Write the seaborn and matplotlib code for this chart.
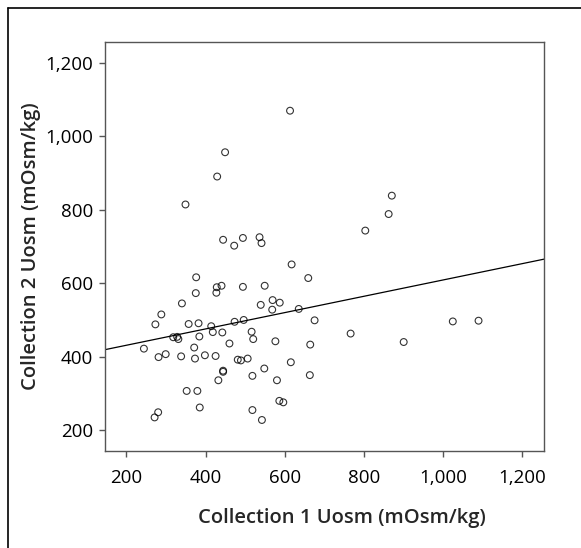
import matplotlib
matplotlib.use("Agg")
import matplotlib.pyplot as plt
from matplotlib.lines import Line2D
from matplotlib.ticker import StrMethodFormatter
import seaborn as sns
import pandas as pd

# Uosm values (mOsm/kg)
collection_1 = [
    613, 449, 429, 349, 870, 862, 803, 444, 494, 536, 541, 472, 617, 376, 659,
    428, 440, 494, 549, 375, 427, 569, 587, 340, 539, 568, 635, 288, 273, 357,
    382, 414, 418, 442, 473, 496, 675, 516, 520, 384, 318, 328, 331, 244, 371,
    460, 576, 664, 766, 900, 1024, 1089, 281, 299, 338, 373, 398, 425, 481, 489,
    506, 615, 548, 444, 444, 518, 663, 432, 580, 352, 379, 385, 586, 596, 518,
    542, 280, 271,
]
collection_2 = [
    1069, 956, 890, 814, 838, 788, 743, 718, 723, 725, 709, 702, 651, 616, 614,
    589, 593, 590, 593, 573, 574, 554, 547, 545, 541, 528, 530, 515, 488, 489,
    491, 483, 467, 466, 495, 500, 499, 468, 448, 455, 453, 454, 448, 422, 425,
    436, 442, 433, 463, 440, 496, 498, 399, 407, 401, 395, 404, 402, 392, 390,
    395, 385, 368, 362, 359, 348, 350, 336, 336, 307, 307, 262, 280, 276, 255,
    228, 249, 235,
]
ticks = [200, 400, 600, 800, 1000, 1200]

df = pd.DataFrame({"c1": collection_1, "c2": collection_2})

sns.set_style("ticks")
plt.rcParams["font.family"] = ["Open Sans", "DejaVu Sans"]

fig = plt.figure(figsize=(5.81, 5.48), dpi=100)
ax = fig.add_axes([0.1802, 0.1779, 0.7566, 0.7449])
# set limits first so the fitted line spans the whole axis
ax.set_xlim(145, 1255)
ax.set_ylim(145, 1255)

# scatter of open circles plus least-squares line
sns.regplot(data=df, x="c1", y="c2", ax=ax, ci=None, truncate=False,
            scatter_kws=dict(s=24, facecolors="none", edgecolors="black", linewidths=0.8),
            line_kws=dict(color="black", lw=0.9))

ax.set_xlim(145, 1255)
ax.set_ylim(145, 1255)
ax.set_xticks(ticks)
ax.set_yticks(ticks)
ax.xaxis.set_major_formatter(StrMethodFormatter("{x:,.0f}"))
ax.yaxis.set_major_formatter(StrMethodFormatter("{x:,.0f}"))
ax.tick_params(axis="both", length=4.5, width=1, color="#555555", labelsize=13.5, labelcolor="black")
ax.tick_params(axis="y", pad=4)
ax.tick_params(axis="x", pad=9)
for sp in ax.spines.values():
    sp.set_color("#555555")
    sp.set_linewidth(1)

ax.set_xlabel("Collection 1 Uosm (mOsm/kg)", fontsize=14.5, fontweight="semibold")
ax.set_ylabel("Collection 2 Uosm (mOsm/kg)", fontsize=14.5, fontweight="semibold")
ax.xaxis.set_label_coords(0.54, -0.14)
ax.yaxis.set_label_coords(-0.145, 0.5)

# outer frame (only left and top edges fall inside the image)
fig.add_artist(Line2D([8 / 581, 8 / 581], [0, 1 - 7.5 / 548], transform=fig.transFigure, color="black", lw=1.2))
fig.add_artist(Line2D([8 / 581, 1], [1 - 7.5 / 548, 1 - 7.5 / 548], transform=fig.transFigure, color="black", lw=1.2))

fig.savefig("out.png", dpi=100)
